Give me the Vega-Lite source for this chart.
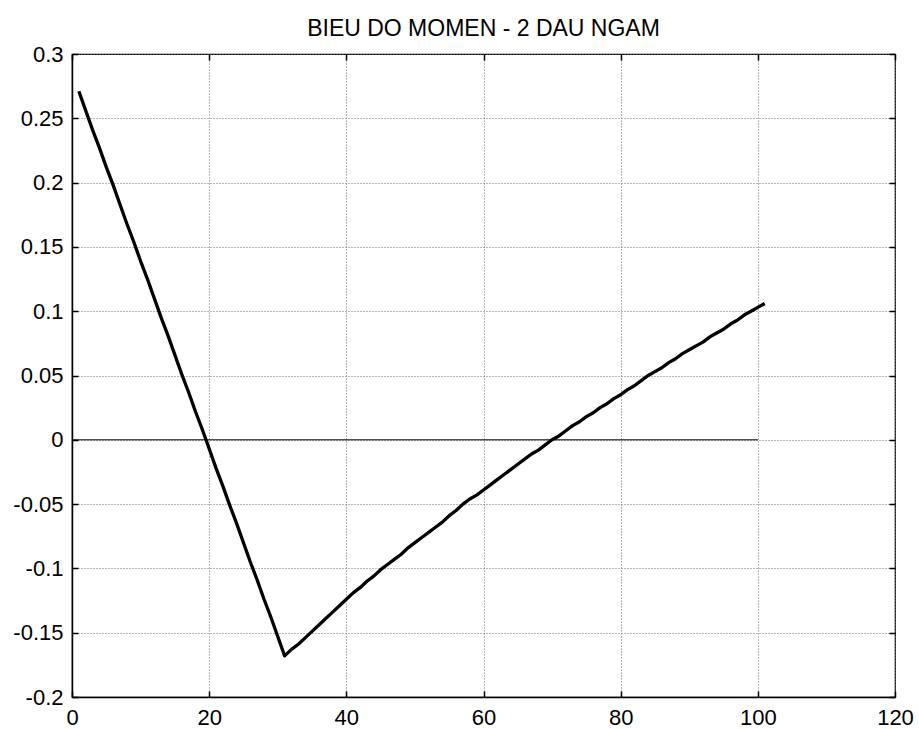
{
  "$schema": "https://vega.github.io/schema/vega-lite/v6.json",
  "autosize": "none",
  "width": 823,
  "height": 643,
  "padding": {"left": 72, "top": 54, "right": 24, "bottom": 32},
  "background": "white",
  "title": {"text": "BIEU DO MOMEN - 2 DAU NGAM", "font": "Liberation Sans", "fontSize": 23, "fontWeight": "normal", "color": "black", "anchor": "middle", "offset": 2},
  "config": {
    "view": {"stroke": "black", "strokeWidth": 1.2},
    "axis": {
      "domainColor": "black", "domainWidth": 1.5,
      "tickColor": "black", "tickWidth": 1.5,
      "labelFont": "Liberation Sans", "labelFontSize": 22, "labelColor": "black",
      "labelFlush": false, "labelOverlap": false, "title": null,
      "gridColor": "#6e6e6e", "gridDash": [1, 2], "gridWidth": 1, "gridOpacity": 1
    }
  },
  "datasets": {
    "moment": [
      {"x": 1, "m": 0.271}, {"x": 2, "m": 0.256}, {"x": 3, "m": 0.241}, {"x": 4, "m": 0.227}, {"x": 5, "m": 0.212},
      {"x": 6, "m": 0.198}, {"x": 7, "m": 0.183}, {"x": 8, "m": 0.168}, {"x": 9, "m": 0.154}, {"x": 10, "m": 0.139},
      {"x": 11, "m": 0.125}, {"x": 12, "m": 0.110}, {"x": 13, "m": 0.095}, {"x": 14, "m": 0.081}, {"x": 15, "m": 0.066},
      {"x": 16, "m": 0.051}, {"x": 17, "m": 0.037}, {"x": 18, "m": 0.022}, {"x": 19, "m": 0.008}, {"x": 20, "m": -0.007},
      {"x": 21, "m": -0.022}, {"x": 22, "m": -0.036}, {"x": 23, "m": -0.051}, {"x": 24, "m": -0.065}, {"x": 25, "m": -0.080},
      {"x": 26, "m": -0.095}, {"x": 27, "m": -0.109}, {"x": 28, "m": -0.124}, {"x": 29, "m": -0.138}, {"x": 30, "m": -0.153},
      {"x": 31, "m": -0.168}, {"x": 32, "m": -0.163}, {"x": 33, "m": -0.159}, {"x": 34, "m": -0.154}, {"x": 35, "m": -0.149},
      {"x": 36, "m": -0.144}, {"x": 37, "m": -0.139}, {"x": 38, "m": -0.134}, {"x": 39, "m": -0.129}, {"x": 40, "m": -0.124},
      {"x": 41, "m": -0.119}, {"x": 42, "m": -0.115}, {"x": 43, "m": -0.110}, {"x": 44, "m": -0.106}, {"x": 45, "m": -0.101},
      {"x": 46, "m": -0.097}, {"x": 47, "m": -0.093}, {"x": 48, "m": -0.089}, {"x": 49, "m": -0.084}, {"x": 50, "m": -0.080},
      {"x": 51, "m": -0.076}, {"x": 52, "m": -0.072}, {"x": 53, "m": -0.068}, {"x": 54, "m": -0.064}, {"x": 55, "m": -0.059},
      {"x": 56, "m": -0.055}, {"x": 57, "m": -0.050}, {"x": 58, "m": -0.046}, {"x": 59, "m": -0.043}, {"x": 60, "m": -0.039},
      {"x": 61, "m": -0.035}, {"x": 62, "m": -0.031}, {"x": 63, "m": -0.027}, {"x": 64, "m": -0.023}, {"x": 65, "m": -0.019},
      {"x": 66, "m": -0.015}, {"x": 67, "m": -0.011}, {"x": 68, "m": -0.008}, {"x": 69, "m": -0.004}, {"x": 70, "m": 0.000},
      {"x": 71, "m": 0.003}, {"x": 72, "m": 0.007}, {"x": 73, "m": 0.011}, {"x": 74, "m": 0.014}, {"x": 75, "m": 0.018},
      {"x": 76, "m": 0.021}, {"x": 77, "m": 0.025}, {"x": 78, "m": 0.028}, {"x": 79, "m": 0.032}, {"x": 80, "m": 0.035},
      {"x": 81, "m": 0.039}, {"x": 82, "m": 0.042}, {"x": 83, "m": 0.046}, {"x": 84, "m": 0.050}, {"x": 85, "m": 0.053},
      {"x": 86, "m": 0.056}, {"x": 87, "m": 0.060}, {"x": 88, "m": 0.063}, {"x": 89, "m": 0.067}, {"x": 90, "m": 0.070},
      {"x": 91, "m": 0.073}, {"x": 92, "m": 0.076}, {"x": 93, "m": 0.080}, {"x": 94, "m": 0.083}, {"x": 95, "m": 0.086},
      {"x": 96, "m": 0.090}, {"x": 97, "m": 0.093}, {"x": 98, "m": 0.097}, {"x": 99, "m": 0.100}, {"x": 100, "m": 0.103},
      {"x": 101, "m": 0.106}
    ],
    "zero": [{"x0": 0, "x1": 100, "y": 0}]
  },
  "layer": [
    {
      "data": {"name": "zero"},
      "mark": {"type": "rule", "color": "black", "strokeWidth": 1},
      "encoding": {
        "x": {"field": "x0", "type": "quantitative", "scale": {"domain": [0, 120], "nice": false, "zero": false},
              "axis": {"orient": "top", "values": [0, 20, 40, 60, 80, 100, 120], "labels": false, "grid": false, "tickSize": -6, "domain": false}},
        "x2": {"field": "x1"},
        "y": {"field": "y", "type": "quantitative", "scale": {"domain": [-0.2, 0.3], "nice": false, "zero": false},
              "axis": {"orient": "right", "values": [-0.2, -0.15, -0.1, -0.05, 0, 0.05, 0.1, 0.15, 0.2, 0.25, 0.3], "labels": false, "grid": false, "tickSize": -6, "domain": false}}
      }
    },
    {
      "data": {"name": "moment"},
      "mark": {"type": "line", "color": "black", "strokeWidth": 3.3, "strokeJoin": "round"},
      "encoding": {
        "x": {"field": "x", "type": "quantitative", "scale": {"domain": [0, 120], "nice": false, "zero": false},
              "axis": {"orient": "bottom", "values": [0, 20, 40, 60, 80, 100, 120], "grid": true, "tickSize": -6, "labelPadding": 16, "labelBaseline": "top"}},
        "y": {"field": "m", "type": "quantitative", "scale": {"domain": [-0.2, 0.3], "nice": false, "zero": false},
              "axis": {"orient": "left", "values": [-0.2, -0.15, -0.1, -0.05, 0, 0.05, 0.1, 0.15, 0.2, 0.25, 0.3], "grid": true, "tickSize": -6, "labelPadding": 15, "labelExpr": "'' + datum.value"}}
      }
    }
  ],
  "resolve": {"axis": {"x": "independent", "y": "independent"}}
}
